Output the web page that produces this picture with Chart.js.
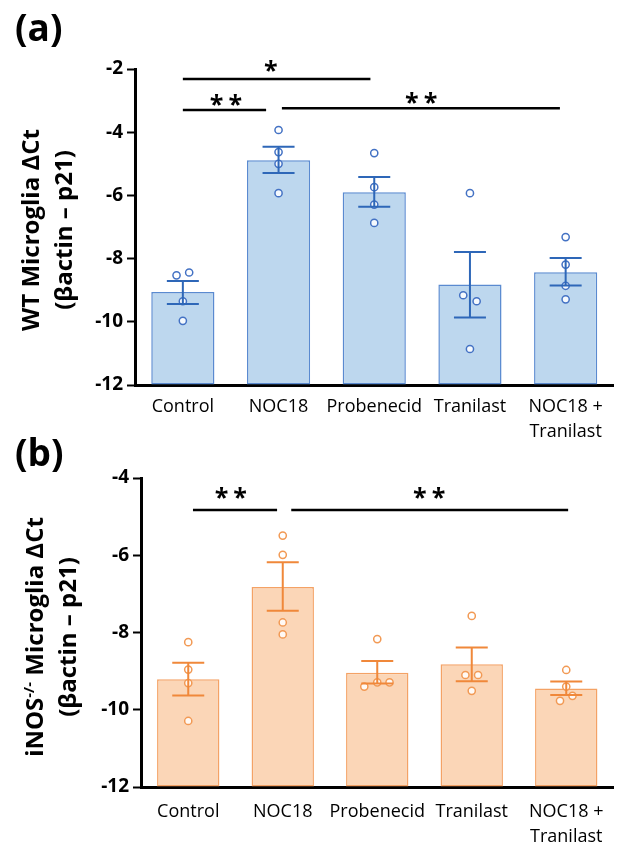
<!DOCTYPE html>
<html>
<head>
<meta charset="utf-8">
<script src="https://cdn.jsdelivr.net/npm/chart.js@4.4.1/dist/chart.umd.min.js"></script>
<style>
  body { margin: 0; background: #fff; width: 619px; height: 846px; position: relative; overflow: hidden; }
  canvas { position: absolute; left: 0; }
  #chartA { top: 0; }
  #chartB { top: 430px; }
</style>
</head>
<body>
<canvas id="chartA" width="619" height="445"></canvas>
<canvas id="chartB" width="619" height="416"></canvas>
<script>
// categories
const categories = ['Control', 'NOC18', 'Probenecid', 'Tranilast', ['NOC18 +', 'Tranilast']];

// (a) WT microglia: bar means, SEM ends, individual points
const wtMean = [-9.06, -4.89, -5.90, -8.82, -8.43];
const wtUpper = [-8.71, -4.46, -5.42, -7.79, -7.98];
const wtLower = [-9.44, -5.29, -6.36, -9.86, -8.85];
const wtPoints = [
  [-8.53, -8.44, -9.35, -9.97],
  [-3.93, -4.63, -5.00, -5.93],
  [-4.66, -5.74, -6.29, -6.87],
  [-5.93, -9.16, -9.35, -10.86],
  [-7.32, -8.19, -8.86, -9.29]
];
const wtJitter = [
  [-0.066, 0.066, 0, 0],
  [0, 0, 0, 0],
  [0, 0, 0, 0],
  [0, -0.07, 0.07, 0],
  [0, 0, 0, 0]
];

// (b) iNOS-/- microglia
const koMean = [-9.21, -6.82, -9.04, -8.82, -9.45];
const koUpper = [-8.78, -6.18, -8.74, -8.39, -9.27];
const koLower = [-9.63, -7.44, -9.32, -9.26, -9.62];
const koPoints = [
  [-8.25, -8.96, -9.31, -10.29],
  [-5.49, -5.99, -7.74, -8.05],
  [-8.17, -9.29, -9.29, -9.40],
  [-7.57, -9.10, -9.10, -9.51],
  [-8.97, -9.40, -9.64, -9.77]
];
const koJitter = [
  [0, 0, 0, 0],
  [0, 0, 0, 0],
  [0, 0, 0.13, -0.137],
  [0, -0.067, 0.067, 0],
  [0, 0, 0.066, -0.066]
];

// significance bars: [from, to, y, stars, starX, starY]
const wtSig = [
  [0, 1.96, -2.32, '*', 0.92, -1.9],
  [0, 0.87, -3.30, '**', 0.45, -2.99],
  [1.035, 3.94, -3.24, '**', 2.49, -2.93]
];
const koSig = [
  [0.05, 0.94, -4.83, '**', 0.45, -4.39],
  [1.09, 4.02, -4.83, '**', 2.55, -4.39]
];

const yTicksA = { min: -12, max: -2, step: 2 };
const yTicksB = { min: -12, max: -4, step: 2 };

function scatterData(points, jitter) {
  const out = [];
  points.forEach((grp, i) => grp.forEach((v, j) => out.push({ x: i + jitter[i][j], y: v })));
  return out;
}

function makeChart(id, cfg) {
  const extras = {
    id: 'extras',
    afterDatasetsDraw(chart) {
      const ctx = chart.ctx;
      const x2 = chart.scales.x2, y = chart.scales.y;
      // error bars
      ctx.save();
      ctx.strokeStyle = cfg.errColor;
      ctx.lineWidth = 2;
      cfg.upper.forEach((u, i) => {
        const px = x2.getPixelForValue(i);
        const pu = y.getPixelForValue(u), pl = y.getPixelForValue(cfg.lower[i]);
        ctx.beginPath();
        ctx.moveTo(px, pu); ctx.lineTo(px, pl);
        ctx.moveTo(px - 16, pu); ctx.lineTo(px + 16, pu);
        ctx.moveTo(px - 16, pl); ctx.lineTo(px + 16, pl);
        ctx.stroke();
      });
      ctx.restore();
    },
    afterDraw(chart) {
      const ctx = chart.ctx;
      const x2 = chart.scales.x2, y = chart.scales.y;
      ctx.save();
      // significance lines and stars
      ctx.strokeStyle = '#000';
      ctx.lineWidth = 2.5;
      ctx.fillStyle = '#000';
      ctx.font = 'bold 25px "Open Sans"';
      ctx.textAlign = 'center';
      ctx.textBaseline = 'alphabetic';
      cfg.sig.forEach(s => {
        const py = y.getPixelForValue(s[2]);
        ctx.beginPath();
        ctx.moveTo(x2.getPixelForValue(s[0]), py);
        ctx.lineTo(x2.getPixelForValue(s[1]), py);
        ctx.stroke();
        ctx.letterSpacing = s[3].length > 1 ? '5px' : '0px';
        const m = ctx.measureText(s[3]);
        const off = (m.actualBoundingBoxAscent - m.actualBoundingBoxDescent) / 2;
        ctx.fillText(s[3], x2.getPixelForValue(s[4]) + (s[3].length > 1 ? 2.5 : 0), y.getPixelForValue(s[5]) + off);
      });
      ctx.letterSpacing = '0px';
      // panel letter
      ctx.textAlign = 'left';
      ctx.font = 'bold 37px "Open Sans"';
      ctx.fillText(cfg.letter, 15, cfg.letterY);
      // y-axis title
      ctx.translate(0, cfg.titleY);
      ctx.rotate(-Math.PI / 2);
      ctx.textAlign = 'left';
      const big = 'bold 24px "Open Sans"', small = 'bold 15px "Open Sans"';
      const parts = cfg.title1;
      let total = 0;
      parts.forEach(p => { ctx.font = p.sup ? small : big; total += ctx.measureText(p.t).width; });
      let cx = -total / 2;
      parts.forEach(p => {
        ctx.font = p.sup ? small : big;
        ctx.fillText(p.t, cx, cfg.title1X - (p.sup ? 9 : 0));
        cx += ctx.measureText(p.t).width;
      });
      ctx.font = big;
      ctx.textAlign = 'center';
      ctx.fillText(cfg.title2, 0, cfg.title2X);
      ctx.restore();
    }
  };

  return new Chart(document.getElementById(id), {
    type: 'bar',
    data: {
      labels: categories,
      datasets: [
        {
          type: 'bar',
          data: cfg.mean,
          base: -12,
          grouped: false,
          backgroundColor: cfg.fill,
          borderColor: cfg.border,
          borderWidth: 1.5,
          borderSkipped: false,
          barPercentage: 0.66,
          categoryPercentage: 1,
          order: 2
        },
        {
          type: 'scatter',
          data: scatterData(cfg.points, cfg.jitter),
          xAxisID: 'x2',
          yAxisID: 'y',
          pointRadius: 3.6,
          pointBorderWidth: 1.5,
          pointBackgroundColor: 'rgba(255,255,255,0.85)',
          pointBorderColor: cfg.pointColor,
          order: 1
        }
      ]
    },
    options: {
      responsive: false,
      animation: false,
      layout: { padding: { top: cfg.padTop, right: 3, left: 0, bottom: 0 } },
      plugins: { legend: { display: false }, tooltip: { enabled: false } },
      scales: {
        x: {
          offset: true,
          grid: { display: true, drawOnChartArea: false, drawTicks: false },
          border: { color: '#000', width: 3 },
          ticks: {
            color: '#000',
            font: { family: 'Open Sans', size: 18, lineHeight: 1.4 },
            padding: cfg.xPad,
            autoSkip: false,
            maxRotation: 0
          },
          afterFit: s => { s.height = cfg.xHeight; }
        },
        x2: { type: 'linear', display: false, offset: false, min: -0.5, max: 4.5 },
        y: {
          min: cfg.yTicks.min,
          max: cfg.yTicks.max,
          ticks: {
            stepSize: cfg.yTicks.step,
            color: '#000',
            font: { family: 'Open Sans', size: 19, weight: 'bold' },
            padding: 4
          },
          grid: { display: true, drawOnChartArea: false, drawTicks: true, tickLength: 8, tickWidth: 2, tickColor: '#000' },
          border: { color: '#000', width: 3 },
          afterFit: s => { s.width = cfg.yWidth; }
        }
      }
    },
    plugins: [extras]
  });
}

makeChart('chartA', {
  mean: wtMean, upper: wtUpper, lower: wtLower, points: wtPoints, jitter: wtJitter, sig: wtSig,
  yTicks: yTicksA,
  fill: '#BDD7EE', border: '#5A8AD0', errColor: '#2E67B8', pointColor: '#4472C4',
  padTop: 69, xHeight: 60, yWidth: 135, xPad: 9,
  letter: '(a)', letterY: 41,
  title1: [{ t: 'WT Microglia ΔCt' }], title1X: 39,
  title2: '(βactin – p21)', title2X: 72, titleY: 230
});

makeChart('chartB', {
  mean: koMean, upper: koUpper, lower: koLower, points: koPoints, jitter: koJitter, sig: koSig,
  yTicks: yTicksB,
  fill: '#FBD6B7', border: '#F4A265', errColor: '#F0883A', pointColor: '#F29A55',
  padTop: 48, xHeight: 59, yWidth: 141, xPad: 12,
  letter: '(b)', letterY: 36,
  title1: [{ t: 'iNOS' }, { t: '-/-', sup: true }, { t: ' Microglia ΔCt' }], title1X: 43,
  title2: '(βactin – p21)', title2X: 76, titleY: 207
});
</script>
</body>
</html>
